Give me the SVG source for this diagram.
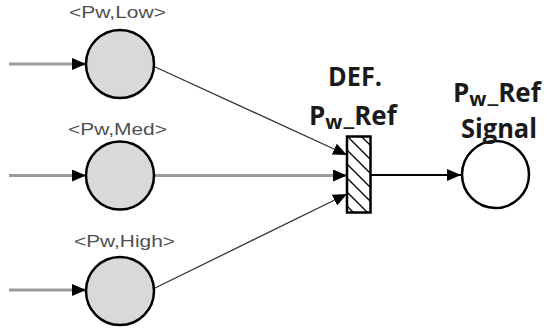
<svg xmlns="http://www.w3.org/2000/svg" width="547" height="328" viewBox="0 0 547 328">
<style>
.place{fill:#d9d9d9;stroke:#000;stroke-width:2.5}
.out{fill:#fff;stroke:#000;stroke-width:2.5}
.lbl{font-family:"Liberation Sans",Arial,sans-serif;font-size:16px;fill:#505050}
.big{font-family:"Open Sans","Liberation Sans",sans-serif;font-weight:bold;font-size:26px;fill:#1a1a1a}
.sub{font-size:20px}
.gray{stroke:#9a9a9a;stroke-width:3;fill:none}
.thin{stroke:#333;stroke-width:1.3;fill:none}
.blk{stroke:#000;stroke-width:2;fill:none}
</style>
<defs>
<marker id="arr" viewBox="0 0 14 12" refX="14" refY="6" markerWidth="14" markerHeight="12" markerUnits="userSpaceOnUse" orient="auto">
<path d="M0,0 L14,6 L0,12 z" fill="#000"/>
</marker>
<pattern id="hatch" patternUnits="userSpaceOnUse" width="14" height="14" x="347" y="136">
<path d="M0,0 L14,14 M-2,12 L2,16 M12,-2 L16,2" stroke="#000" stroke-width="1.3"/>
</pattern>
</defs>
<g id="connectors">
<line class="gray" x1="9" y1="64" x2="86" y2="64" marker-end="url(#arr)"/>
<line class="gray" x1="9" y1="175.5" x2="86" y2="175.5" marker-end="url(#arr)"/>
<line class="gray" x1="9" y1="290" x2="86" y2="290" marker-end="url(#arr)"/>
<line class="thin" x1="153" y1="66" x2="347" y2="155" marker-end="url(#arr)"/>
<line class="gray" x1="154" y1="175.5" x2="347" y2="175.5" marker-end="url(#arr)"/>
<line class="thin" x1="153" y1="289" x2="347" y2="194" marker-end="url(#arr)"/>
<line class="blk" x1="371" y1="175" x2="461" y2="175" marker-end="url(#arr)"/>
</g>
<g id="place-low">
<circle class="place" cx="120" cy="64" r="34"/>
<text class="lbl" x="69" y="18" textLength="97" lengthAdjust="spacingAndGlyphs">&lt;Pw,Low&gt;</text>
</g>
<g id="place-med">
<circle class="place" cx="120" cy="175.5" r="34"/>
<text class="lbl" x="68" y="135" textLength="99" lengthAdjust="spacingAndGlyphs">&lt;Pw,Med&gt;</text>
</g>
<g id="place-high">
<circle class="place" cx="120" cy="291" r="34"/>
<text class="lbl" x="74" y="247" textLength="101" lengthAdjust="spacingAndGlyphs">&lt;Pw,High&gt;</text>
</g>
<g id="transition-def">
<rect x="347" y="136.5" width="23.5" height="76" fill="url(#hatch)" stroke="#000" stroke-width="2.5"/>
<text class="big" x="328" y="86" textLength="54" lengthAdjust="spacingAndGlyphs">DEF.</text>
<text class="big" x="309" y="125">P<tspan class="sub" dy="4">w</tspan><tspan dy="-4" dx="1">_Ref</tspan></text>
</g>
<g id="place-signal">
<circle class="out" cx="495.5" cy="174.5" r="33.5"/>
<text class="big" x="453" y="102">P<tspan class="sub" dy="4">w</tspan><tspan dy="-4" dx="1">_Ref</tspan></text>
<text class="big" x="461" y="138" textLength="76" lengthAdjust="spacingAndGlyphs">Signal</text>
</g>
</svg>
